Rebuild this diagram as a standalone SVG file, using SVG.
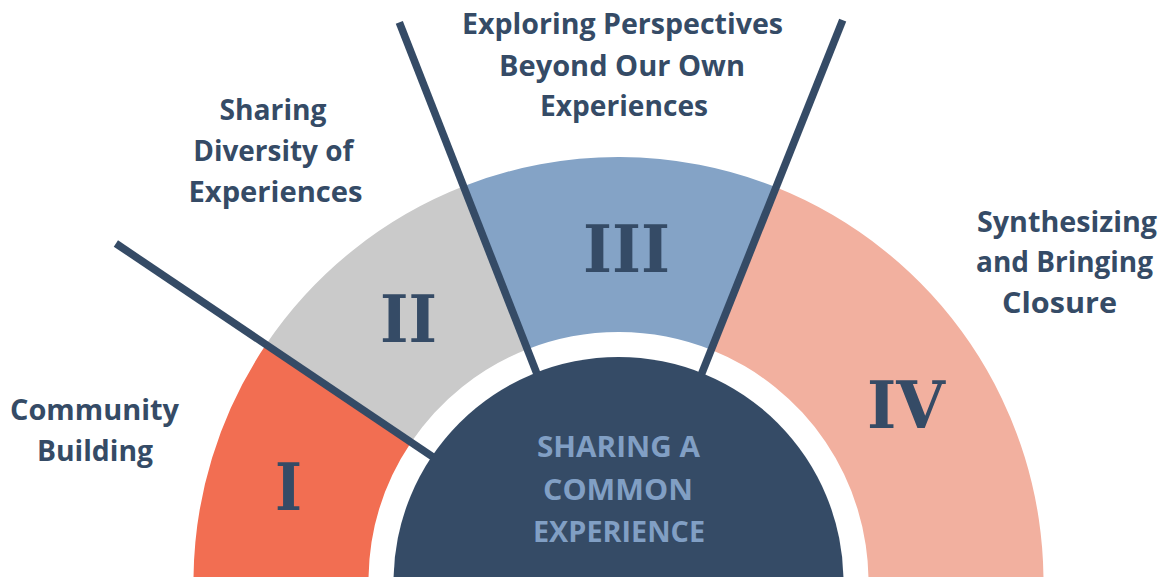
<svg xmlns="http://www.w3.org/2000/svg" width="1163" height="577" viewBox="0 0 1163 577">
  <style>
    .lbl { font-family: "Open Sans", "Liberation Sans", sans-serif; font-weight: 700; font-size: 28px; fill: #354B66; text-anchor: middle; }
    .num { font-family: "DejaVu Serif", "Liberation Serif", serif; font-weight: 700; font-size: 66px; fill: #354B66; text-anchor: middle; }
    .core { font-family: "Open Sans", "Liberation Sans", sans-serif; font-weight: 700; font-size: 28px; fill: #819FC4; text-anchor: middle; }
    .div { stroke: #354B66; stroke-width: 7.6; stroke-linecap: butt; fill: none; }
  </style>
  <rect width="1163" height="577" fill="#FFFFFF"/>

  <g id="segment-I">
    <path d="M 193.5 582 A 425 425 0 0 1 266.0 344.6 L 411.1 442.3 A 250 250 0 0 0 368.5 582 Z" fill="#F26E52"/>
    <text class="num" x="288.5" y="510" textLength="27" lengthAdjust="spacingAndGlyphs">I</text>
  </g>
  <g id="segment-II">
    <path d="M 266.0 344.6 A 425 425 0 0 1 463.5 186.3 L 527.3 349.2 A 250 250 0 0 0 411.1 442.3 Z" fill="#CACACA"/>
    <text class="num" x="408.5" y="342" textLength="57" lengthAdjust="spacingAndGlyphs">II</text>
  </g>
  <g id="segment-III">
    <path d="M 463.5 186.3 A 425 425 0 0 1 776.0 187.3 L 711.2 349.8 A 250 250 0 0 0 527.3 349.2 Z" fill="#84A3C6"/>
    <text class="num" x="626.5" y="272" textLength="87" lengthAdjust="spacingAndGlyphs">III</text>
  </g>
  <g id="segment-IV">
    <path d="M 776.0 187.3 A 425 425 0 0 1 1043.5 582 L 868.5 582 A 250 250 0 0 0 711.2 349.8 Z" fill="#F2B09F"/>
    <text class="num" x="906" y="428" textLength="78" lengthAdjust="spacingAndGlyphs">IV</text>
  </g>

  <g id="connectors">
    <line class="div" x1="440.2" y1="461.9" x2="115.9" y2="243.5"/>
    <line class="div" x1="540.1" y1="381.8" x2="399.3" y2="22.4"/>
    <line class="div" x1="698.2" y1="382.3" x2="842.7" y2="20.1"/>
  </g>

  <g id="center">
    <circle cx="618.5" cy="582" r="225" fill="#354B66"/>
    <text class="core" x="618.5" y="457" textLength="163" lengthAdjust="spacingAndGlyphs">SHARING A</text>
    <text class="core" x="618" y="500" textLength="150" lengthAdjust="spacingAndGlyphs">COMMON</text>
    <text class="core" x="619" y="542" textLength="172" lengthAdjust="spacingAndGlyphs">EXPERIENCE</text>
  </g>

  <g id="label-I">
    <text class="lbl" x="94.5" y="420" textLength="169" lengthAdjust="spacingAndGlyphs">Community</text>
    <text class="lbl" x="95" y="461" textLength="116" lengthAdjust="spacingAndGlyphs">Building</text>
  </g>
  <g id="label-II">
    <text class="lbl" x="273" y="120" textLength="107" lengthAdjust="spacingAndGlyphs">Sharing</text>
    <text class="lbl" x="273.3" y="161" textLength="160" lengthAdjust="spacingAndGlyphs">Diversity of</text>
    <text class="lbl" x="275.5" y="202" textLength="174" lengthAdjust="spacingAndGlyphs">Experiences</text>
  </g>
  <g id="label-III">
    <text class="lbl" x="622.5" y="34" textLength="321" lengthAdjust="spacingAndGlyphs">Exploring Perspectives</text>
    <text class="lbl" x="622" y="76" textLength="246" lengthAdjust="spacingAndGlyphs">Beyond Our Own</text>
    <text class="lbl" x="624" y="116" textLength="168" lengthAdjust="spacingAndGlyphs">Experiences</text>
  </g>
  <g id="label-IV">
    <text class="lbl" x="1067" y="232" textLength="180" lengthAdjust="spacingAndGlyphs">Synthesizing</text>
    <text class="lbl" x="1064.5" y="272" textLength="177" lengthAdjust="spacingAndGlyphs">and Bringing</text>
    <text class="lbl" x="1059.5" y="313" textLength="115" lengthAdjust="spacingAndGlyphs">Closure</text>
  </g>
</svg>
